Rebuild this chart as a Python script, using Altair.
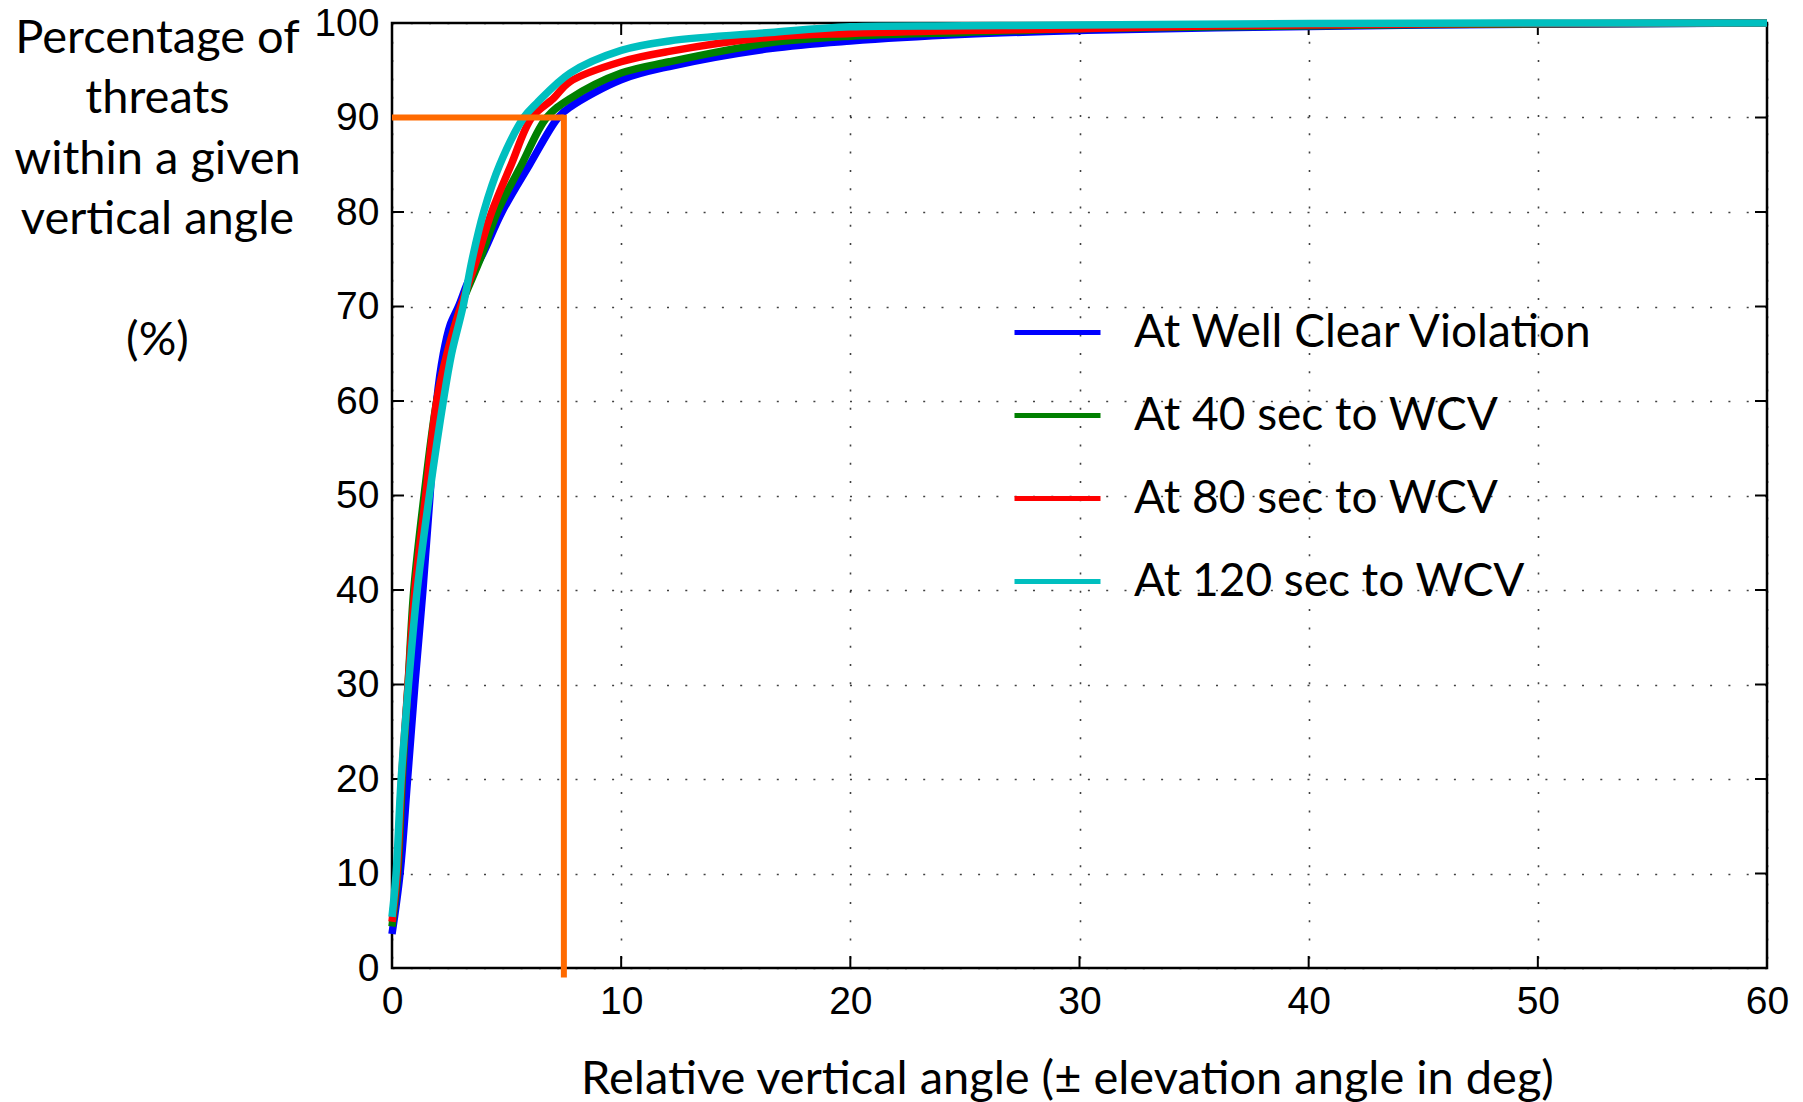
import altair as alt
import pandas as pd

# ---- data ----
series_names = ["At Well Clear Violation", "At 40 sec to WCV", "At 80 sec to WCV", "At 120 sec to WCV"]
series_colors = ["#0000FF", "#008000", "#FF0000", "#00BFBF"]

wcv_x = [0, 0.35, 0.68, 1.0, 1.35, 1.66, 1.95, 2.24, 2.53, 2.9, 3.35, 3.95, 4.8, 6.0, 7.25, 7.77, 10, 12.1, 16.5, 20, 25, 30, 36, 45, 60]
wcv_y = [3.6, 10, 20, 30, 40, 50, 60, 65, 68, 70, 72.8, 75.5, 80, 85, 90, 91.1, 94.0, 95.4, 97.3, 98.1, 98.8, 99.2, 99.5, 99.8, 100]

s40_x = [0, 0.25, 0.45, 0.7, 0.95, 1.4, 1.95, 2.4, 3.0, 3.85, 4.6, 5.65, 6.75, 7.77, 10, 12.1, 16.5, 20, 25, 30, 36, 45, 60]
s40_y = [4.4, 10, 20, 30, 40, 50, 60, 65, 70, 75, 80, 85, 90, 92.0, 94.7, 95.9, 97.9, 98.6, 99.0, 99.4, 99.6, 99.85, 100]

s80_x = [0, 0.22, 0.42, 0.7, 1.0, 1.47, 1.95, 2.4, 3.0, 3.7, 4.35, 5.2, 6.1, 7.04, 7.77, 10, 12.1, 16.5, 20, 25, 30, 36, 45, 60]
s80_y = [4.9, 10, 20, 30, 40, 50, 60, 65, 70, 75, 80, 85, 90, 92.0, 93.8, 95.9, 97.0, 98.5, 98.9, 99.2, 99.4, 99.7, 99.9, 100]

s120_x = [0, 0.18, 0.4, 0.72, 1.1, 1.63, 2.24, 2.6, 3.1, 3.5, 4.0, 4.7, 5.75, 6.31, 7.77, 10, 12.1, 16.5, 20, 25, 30, 40, 60]
s120_y = [5.4, 10, 20, 30, 40, 50, 60, 65, 70, 75, 80, 85, 90, 91.5, 94.7, 97.1, 98.1, 99.0, 99.6, 99.7, 99.8, 99.95, 100]

threshold_pct = 90
threshold_angle = 7.5
x_ticks = [0, 10, 20, 30, 40, 50, 60]
y_ticks = [0, 10, 20, 30, 40, 50, 60, 70, 80, 90, 100]

W, H = 1375, 945

rows = []
for name, xs, ys in zip(series_names, [wcv_x, s40_x, s80_x, s120_x], [wcv_y, s40_y, s80_y, s120_y]):
    for i, (a, b) in enumerate(zip(xs, ys)):
        rows.append({"series": name, "angle": a, "pct": b, "i": i})
df = pd.DataFrame(rows)

xscale = alt.Scale(domain=[0, 60], nice=False, zero=False)
yscale = alt.Scale(domain=[0, 100], nice=False, zero=False)

lines = alt.Chart(df).mark_line(strokeWidth=7.5, interpolate="catmull-rom").encode(
    x=alt.X("angle:Q", scale=xscale, axis=alt.Axis(
        values=x_ticks, title="Relative vertical angle (± elevation angle in deg)",
        titleX=675, titleY=125, titleBaseline="alphabetic", titleAnchor="start", titleAlign="center")),
    y=alt.Y("pct:Q", scale=yscale, axis=alt.Axis(
        values=y_ticks,
        title=["Percentage of", "threats", "within a given", "vertical angle", "\u200b", "(%)"],
        titleAngle=0, titleAlign="center", titleBaseline="alphabetic",
        titleX=-235, titleY=29, titleLineHeight=60.5, titleAnchor="start")),
    color=alt.Color("series:N", scale=alt.Scale(domain=series_names, range=series_colors),
                    sort=series_names,
                    legend=alt.Legend(title=None, orient="none", legendX=620, legendY=264,
                                      symbolType="stroke", symbolSize=7396, symbolStrokeWidth=5,
                                      labelFont="Lato", labelFontSize=46, labelColor="black",
                                      labelOffset=31, rowPadding=14, labelLimit=700)),
    order="i:Q",
    detail="series:N",
)

hline_df = pd.DataFrame({"x0": [0], "x1": [threshold_angle], "y": [threshold_pct]})
hline = alt.Chart(hline_df).mark_rule(color="#FF6A00", strokeWidth=6, clip=False).encode(
    x=alt.X("x0:Q", scale=xscale), x2="x1:Q", y=alt.Y("y:Q", scale=yscale))
vline_df = pd.DataFrame({"x": [threshold_angle], "y0": [threshold_pct + 0.3], "y1": [-1]})
vline = alt.Chart(vline_df).mark_rule(color="#FF6A00", strokeWidth=6, clip=False).encode(
    x=alt.X("x:Q", scale=xscale), y=alt.Y("y0:Q", scale=yscale), y2="y1:Q")

xt = pd.DataFrame({"v": x_ticks})
yt = pd.DataFrame({"v": y_ticks})
tick_bottom = alt.Chart(xt).mark_rule(color="black", strokeWidth=2).encode(
    x=alt.X("v:Q", scale=xscale), y=alt.value(H), y2=alt.value(H - 12))
tick_top = alt.Chart(xt).mark_rule(color="black", strokeWidth=2).encode(
    x=alt.X("v:Q", scale=xscale), y=alt.value(0), y2=alt.value(12))
tick_left = alt.Chart(yt).mark_rule(color="black", strokeWidth=2).encode(
    y=alt.Y("v:Q", scale=yscale), x=alt.value(0), x2=alt.value(12))
tick_right = alt.Chart(yt).mark_rule(color="black", strokeWidth=2).encode(
    y=alt.Y("v:Q", scale=yscale), x=alt.value(W), x2=alt.value(W - 12))

chart = alt.layer(tick_bottom, tick_top, tick_left, tick_right, lines, hline, vline).properties(
    width=W, height=H,
    autosize=alt.AutoSizeParams(type="none"),
    padding={"left": 392, "top": 23, "right": 36, "bottom": 134},
    background="white",
).configure_view(stroke="black", strokeWidth=2.5).configure_axis(
    grid=True, gridColor="black", gridDash=[2, 16.3], gridWidth=1.6, gridOpacity=0.75,
    domain=False, ticks=False, labelFlush=False,
    labelFont="Liberation Sans", labelFontSize=39, labelColor="black",
    titleFont="Lato", titleFontSize=47, titleFontWeight="normal", titleColor="black",
).configure_axisX(labelPadding=14).configure_axisY(labelPadding=13)

chart.save("out.html", embed_options={"renderer": "svg", "actions": False})
